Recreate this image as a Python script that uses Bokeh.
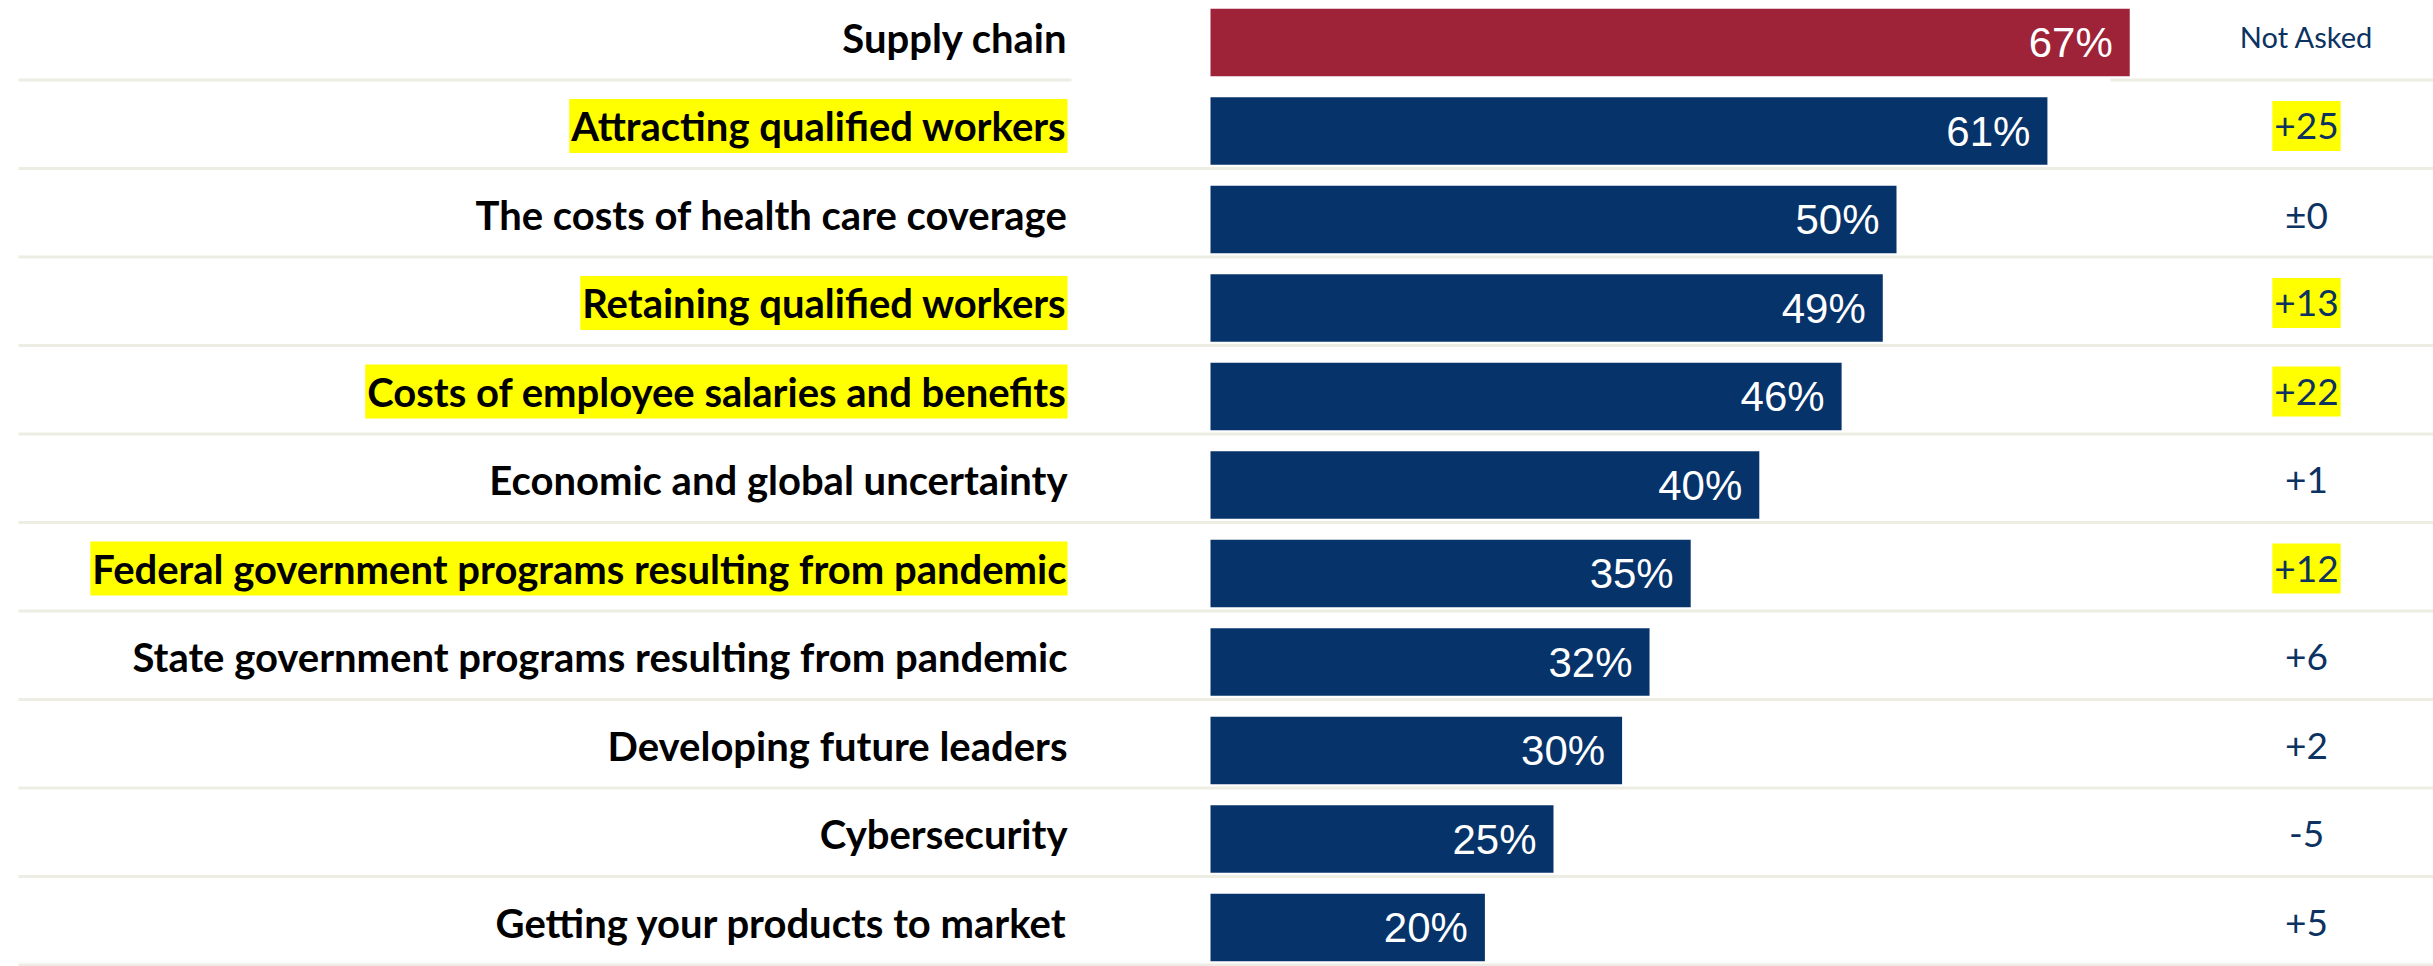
from bokeh.plotting import figure
from bokeh.models import Range1d, ColumnDataSource
from bokeh.core.properties import value
from bokeh.embed import file_html
from bokeh.resources import INLINE

# ---------------- data ----------------
categories = [
    "Supply chain",
    "Attracting qualified workers",
    "The costs of health care coverage",
    "Retaining qualified workers",
    "Costs of employee salaries and benefits",
    "Economic and global uncertainty",
    "Federal government programs resulting from pandemic",
    "State government programs resulting from pandemic",
    "Developing future leaders",
    "Cybersecurity",
    "Getting your products to market",
]
shares = [67, 61, 50, 49, 46, 40, 35, 32, 30, 25, 20]
changes = ["Not Asked", "+25", "\u00b10", "+13", "+22", "+1", "+12", "+6", "+2", "-5", "+5"]
highlighted = [False, True, False, True, True, False, True, False, False, False, False]

# ---------------- layout constants ----------------
W, H = 2433, 966
PX_PER_PCT = 13.72
ZERO_PX = 1210
ROW_PX = 88.5
TOP_PX = 42.0
NAVY = "#06336A"
RED = "#9E2238"
TXT_NAVY = "#0B3261"
SEP = "#EDEDE4"

x_start = -ZERO_PX / PX_PER_PCT
x_end = x_start + W / PX_PER_PCT
y_top = TOP_PX / ROW_PX
y_bottom = y_top - H / ROW_PX

def px_to_x(px):
    return (px - ZERO_PX) / PX_PER_PCT

n = len(categories)
ys = [-i for i in range(n)]
colors = [RED if i == 0 else NAVY for i in range(n)]
pct_labels = [f"{v}%" for v in shares]

src = ColumnDataSource(dict(y=ys, cat=categories, share=shares, color=colors,
                            pct=pct_labels, chg=changes))
hl_idx = [i for i in range(n) if highlighted[i]]
src_hl = ColumnDataSource(dict(y=[ys[i] for i in hl_idx],
                               cat=[categories[i] for i in hl_idx],
                               chg=[changes[i] for i in hl_idx]))
src_plain = ColumnDataSource(dict(y=[ys[i] for i in range(n) if not highlighted[i]],
                                  cat=[categories[i] for i in range(n) if not highlighted[i]]))

p = figure(width=W, height=H, output_backend="svg", toolbar_location=None,
           x_range=Range1d(x_start, x_end), y_range=Range1d(y_bottom, y_top),
           min_border=0, min_border_left=0, min_border_right=0,
           min_border_top=0, min_border_bottom=0)
p.axis.visible = False
p.grid.visible = False
p.outline_line_color = None
p.background_fill_color = "white"
p.border_fill_color = "white"

# separators
sep_off = 37.5 / ROW_PX
sx0 = px_to_x(18)
seg_x0, seg_x1, seg_y = [], [], []
for i in range(n):
    yy = ys[i] - sep_off
    if i == 0:
        seg_x0 += [sx0, px_to_x(2110)]
        seg_x1 += [px_to_x(1071), x_end]
        seg_y += [yy, yy]
    else:
        seg_x0.append(sx0)
        seg_x1.append(x_end)
        seg_y.append(yy)
p.segment(x0=seg_x0, x1=seg_x1, y0=seg_y, y1=seg_y, line_color=SEP, line_width=3)

# bars
p.hbar(y="y", left=0, right="share", height=67.5 / ROW_PX, fill_color="color",
       line_color=None, source=src)

# percent labels
p.text(x="share", y="y", text="pct", source=src, x_offset=-17,
       text_align="right", text_baseline="middle", text_color="white",
       text_font=value("Liberation Sans"), text_font_size="42px")

# category labels
label_x = px_to_x(1067)
p.text(x=label_x, y="y", text="cat", source=src_plain, y_offset=-5,
       text_align="right", text_baseline="middle", text_color="black",
       text_font=value("Lato"), text_font_style="bold", text_font_size="40px")
p.text(x=label_x, y="y", text="cat", source=src_hl, y_offset=-5,
       text_align="right", text_baseline="middle", text_color="black",
       text_font=value("Lato"), text_font_style="bold", text_font_size="40px",
       background_fill_color="#FFFF00",
       padding=dict(left=2, right=1, top=3, bottom=3))

# change column
chg_x = px_to_x(2306)
src_chg_plain = ColumnDataSource(dict(
    y=[ys[i] for i in range(1, n) if not highlighted[i]],
    chg=[changes[i] for i in range(1, n) if not highlighted[i]]))
p.text(x=chg_x, y=[ys[0]], text=[changes[0]], y_offset=-6,
       text_align="center", text_baseline="middle", text_color=TXT_NAVY,
       text_font=value("Lato"), text_font_size="29px")
p.text(x=chg_x, y="y", text="chg", source=src_chg_plain, y_offset=-5,
       text_align="center", text_baseline="middle", text_color=TXT_NAVY,
       text_font=value("Lato"), text_font_size="37px")
p.text(x=chg_x, y="y", text="chg", source=src_hl, y_offset=-5,
       text_align="center", text_baseline="middle", text_color=TXT_NAVY,
       text_font=value("Lato"), text_font_size="37px",
       background_fill_color="#FFFF00",
       padding=dict(left=2, right=2, top=12, bottom=12))

open("out.html", "w").write(file_html(p, INLINE))
